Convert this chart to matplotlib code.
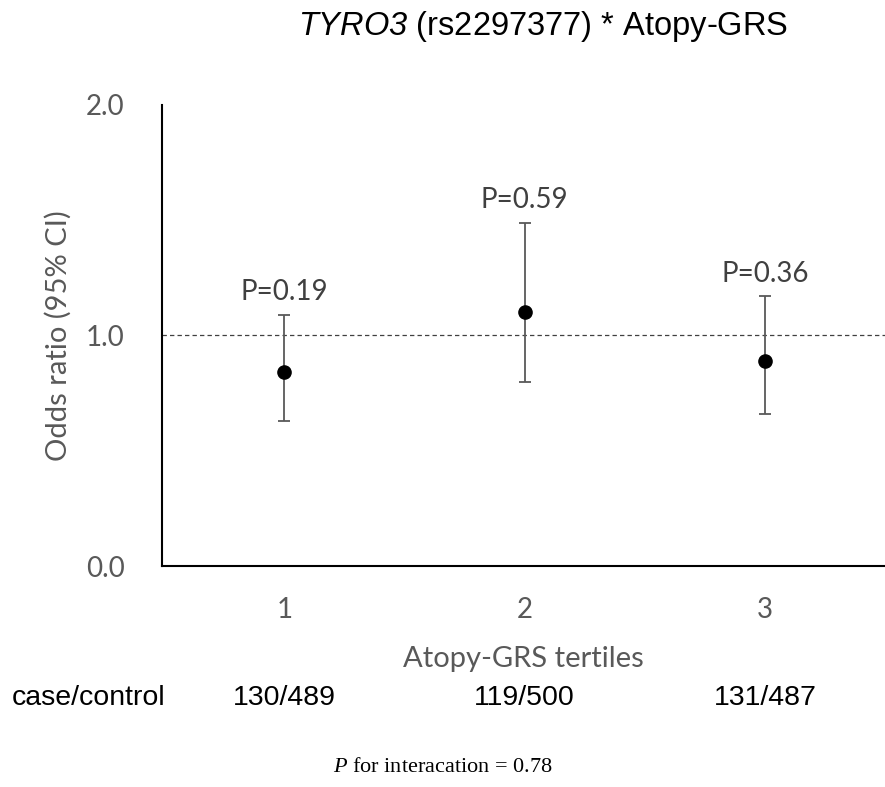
import numpy as np
import matplotlib.pyplot as plt

# odds ratios with 95% CI by Atopy-GRS tertile
tertiles = [1, 2, 3]
odds_ratio = [0.84, 1.10, 0.89]
ci_low = [0.63, 0.80, 0.66]
ci_high = [1.09, 1.49, 1.17]
p_values = ["P=0.19", "P=0.59", "P=0.36"]
case_control = ["130/489", "119/500", "131/487"]
p_interaction = 0.78

gray = "#595959"
calibri_like = "Lato"

plt.rcParams["mathtext.fontset"] = "custom"
plt.rcParams["mathtext.sf"] = "Liberation Sans:italic"
plt.rcParams["mathtext.it"] = "Liberation Serif:italic"
plt.rcParams["mathtext.rm"] = "Liberation Serif"

fig = plt.figure(figsize=(8.85, 7.87), dpi=100)
ax = fig.add_axes([0.183, 0.2808, 0.817, 0.5858])

x = np.array(tertiles)
or_ = np.array(odds_ratio)
yerr = np.vstack([or_ - np.array(ci_low), np.array(ci_high) - or_])

ax.axhline(1.0, color="#404040", lw=0.9, ls=(0, (3.5, 2.5)), zorder=1)
ax.errorbar(x, or_, yerr=yerr, fmt="o", color="black", ms=9.5,
            ecolor=gray, elinewidth=1.3, capsize=4.5, capthick=1.3, zorder=3)

for xi, hi, lab in zip(x, ci_high, p_values):
    ax.annotate(lab, (xi, hi), xytext=(0, 7), textcoords="offset points",
                ha="center", va="bottom", fontsize=20, color="#404040",
                family=calibri_like)

ax.set_xlim(0.49, 3.5)
ax.set_ylim(0, 2.0)
ax.set_yticks([0.0, 1.0, 2.0])
ax.set_yticklabels(["0.0", "1.0", "2.0"])
ax.set_xticks(x)
ax.tick_params(axis="both", length=0, labelsize=20, labelcolor=gray)
ax.tick_params(axis="y", pad=27)
ax.tick_params(axis="x", pad=22)
for t in ax.get_xticklabels() + ax.get_yticklabels():
    t.set_family(calibri_like)
ax.spines[["top", "right"]].set_visible(False)
ax.spines["left"].set_linewidth(1.5)
ax.spines["bottom"].set_linewidth(1.5)

ax.set_ylabel("Odds ratio (95% CI)", fontsize=21, color=gray,
              family=calibri_like, labelpad=10)
ax.set_xlabel("Atopy-GRS tertiles", fontsize=21, color=gray,
              family=calibri_like, labelpad=17)

# title with italic gene name
fig.text(543 / 885, 1 - 35 / 787, "$\\mathsf{TYRO3}$ (rs2297377) * Atopy-GRS",
         ha="center", va="baseline", fontsize=23.5, family="Liberation Sans")

# case/control counts under each tertile
row_y = 1 - 705 / 787
fig.text(12 / 885, row_y, "case/control", ha="left", va="baseline",
         fontsize=20.5, family="Liberation Sans")
for xi, cc in zip(x, case_control):
    xf = fig.transFigure.inverted().transform(ax.transData.transform((xi, 0)))[0]
    fig.text(xf, row_y, cc, ha="center", va="baseline",
             fontsize=20.5, family="Liberation Sans")

fig.text(443 / 885, 1 - 767 / 787, f"$\\mathit{{P}}$ for interacation = {p_interaction}",
         ha="center", va="center", fontsize=16, family="Liberation Serif")

fig.savefig("out.png", dpi=100)
